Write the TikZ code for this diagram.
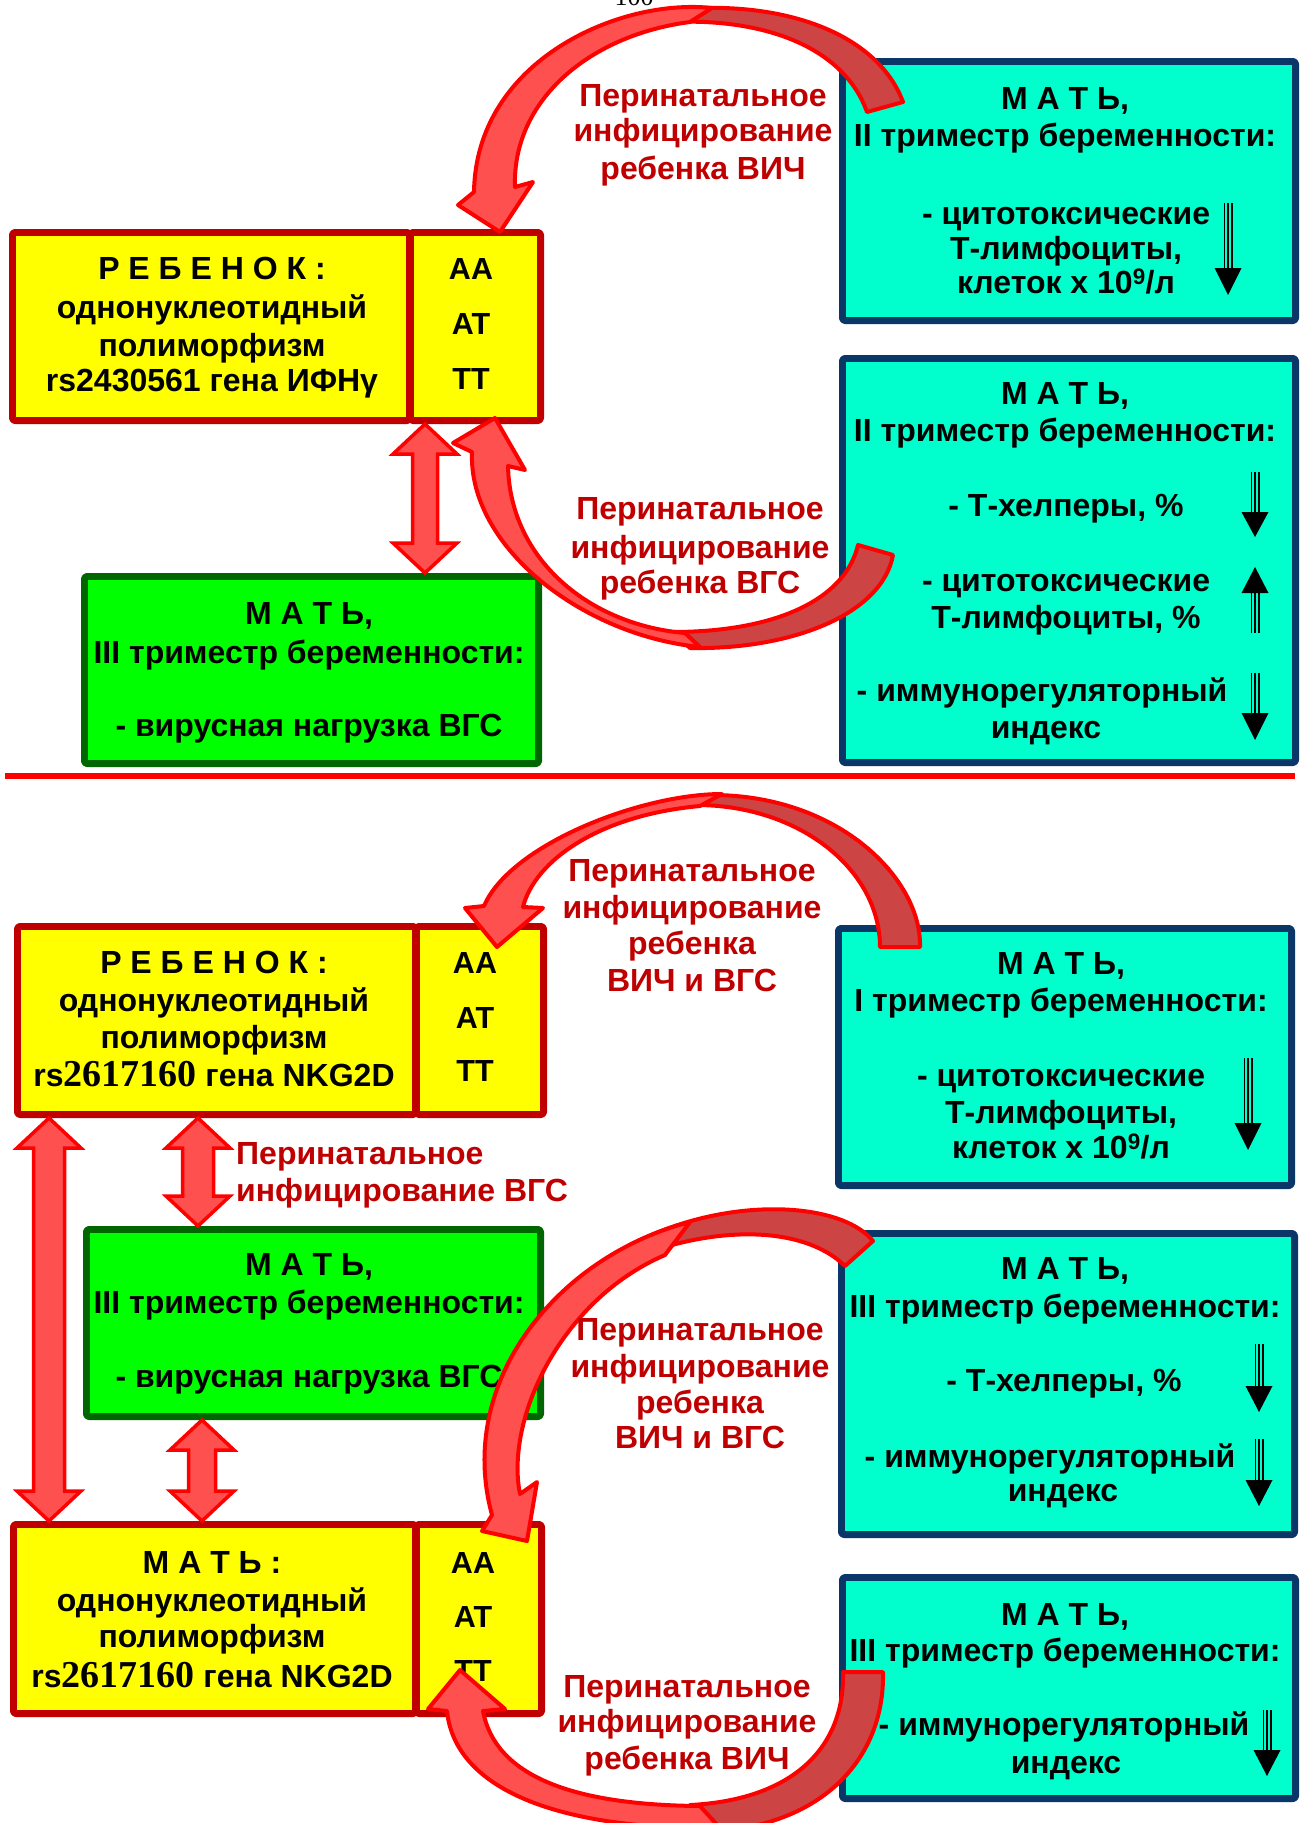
\documentclass[tikz,border=0pt]{standalone}
\usepackage{fontspec}
\setmainfont{Liberation Sans}
\newfontfamily\serifdig{Liberation Serif}
\usetikzlibrary{calc}
\definecolor{boxred}{HTML}{C00000}
\definecolor{yel}{HTML}{FFFF00}
\definecolor{navy}{HTML}{0B3768}
\definecolor{cyanf}{HTML}{00FFCC}
\definecolor{grn}{HTML}{00FF00}
\definecolor{dgrn}{HTML}{006600}
\definecolor{lblred}{HTML}{C00000}
\definecolor{arrl}{HTML}{FF5050}
\definecolor{arrd}{HTML}{CC4444}
\definecolor{rline}{HTML}{FF0000}
\tikzset{
 yelbox/.style={draw=boxred, line width=6pt, fill=yel, rounded corners=3pt},
 yelboxinner/.style={draw=boxred, line width=1.6pt},
 cyanbox/.style={draw=navy, line width=6pt, fill=cyanf, rounded corners=3pt},
 cyanboxinner/.style={draw=navy, line width=1.6pt},
 grnbox/.style={draw=dgrn, line width=6pt, fill=grn, rounded corners=3pt},
 grnboxinner/.style={draw=dgrn, line width=1.6pt},
 txt/.style={font=\bfseries\fontsize{32pt}{38pt}\selectfont, inner sep=0pt, text height=23pt, text depth=0pt},
 lbl/.style={txt, text=lblred},
 gen/.style={txt, font=\bfseries\fontsize{30.5pt}{36pt}\selectfont},
 darkband/.style={fill=arrd, draw=rline, line width=4pt, line join=round},
 lightband/.style={fill=arrl, draw=rline, line width=4pt, line join=round},
 blockarr/.style={fill=arrl, draw=rline, line width=3.5pt, line join=miter},
}
\newcommand\MkBox[6]{%
 \node[#1, minimum width=#5pt, minimum height=#6pt, anchor=north west] (#2) at (#3,#4) {};
 \draw[#1inner] ([xshift=6.5pt,yshift=-6.5pt]#2.north west) rectangle ([xshift=-6.5pt,yshift=6.5pt]#2.south east);}
\newcommand\IndArrow[4]{%
 \draw[line width=1.4pt] (#1-3.8,#2) -- (#1-3.8,#3) (#1,#2) -- (#1,#3) (#1+3.8,#2) -- (#1+3.8,#3);
 \fill (#1-13.5,#3) -- (#1+13.5,#3) -- (#1,#4) -- cycle;}
\newcommand\VDArrow[3]{%
 \draw[blockarr] (#1) -- ($(#1)+(32,30)$) -- ($(#1)+(#3,30)$) -- ($(#2)+(#3,-30)$) -- ($(#2)+(32,-30)$) -- (#2) -- ($(#2)+(-32,-30)$) -- ($(#2)+(-#3,-30)$) -- ($(#1)+(-#3,30)$) -- ($(#1)+(-32,30)$) -- cycle;}
\begin{document}
\begin{tikzpicture}[x=1pt,y=-1pt,line join=round]
\useasboundingbox (0,0) rectangle (1301,1823);
\fill[white] (0,0) rectangle (1301,1823);
\node[font=\serifdig\fontsize{26pt}{30pt}\selectfont, anchor=base, inner sep=0pt] (pnum) at (634,5) {100};

% ---------------- top half ----------------
\MkBox{yelbox}{kid1main}{9}{229}{398}{189}
\MkBox{yelbox}{kid1gen}{407}{229}{131}{189}
\MkBox{cyanbox}{cyanA}{839}{58}{454}{260}
\MkBox{cyanbox}{cyanB}{839}{355}{454}{405}
\MkBox{grnbox}{green1}{81}{573}{455}{188}

\node[txt] (k1a) at (212,268) {Р Е Б Е Н О К :};
\node[txt] (k1b) at (212,307) {однонуклеотидный};
\node[txt] (k1c) at (212,345) {полиморфизм};
\node[txt] (k1d) at (212,380) {rs2430561 гена ИФНγ};
\node[gen] (g1a) at (471,268) {AA};
\node[gen] (g1b) at (471,323) {AT};
\node[gen] (g1c) at (471,378) {TT};

\node[txt] (cAa) at (1065,98) {М А Т Ь,};
\node[txt] (cAb) at (1065,135) {II триместр беременности:};
\node[txt] (cAc) at (1066,213) {- цитотоксические};
\node[txt] (cAd) at (1066,248) {Т-лимфоциты,};
\node[txt] (cAe) at (1066,282) {клеток х 10\textsuperscript{9}/л};
\IndArrow{1228}{203}{268}{295}

\node[txt] (cBa) at (1065,393) {М А Т Ь,};
\node[txt] (cBb) at (1065,430) {II триместр беременности:};
\node[txt] (cBc) at (1066,505) {- Т-хелперы, \%};
\node[txt] (cBd) at (1066,580) {- цитотоксические};
\node[txt] (cBe) at (1066,617) {Т-лимфоциты, \%};
\node[txt] (cBf) at (1042,690) {- иммунорегуляторный};
\node[txt] (cBg) at (1046,727) {индекс};
\IndArrow{1255}{472}{512}{537}
\IndArrow{1255}{633}{593}{567}
\IndArrow{1255}{673}{713}{740}

\node[txt] (gr1a) at (309,613) {М А Т Ь,};
\node[txt] (gr1b) at (309,652) {III триместр беременности:};
\node[txt] (gr1c) at (309,725) {- вирусная нагрузка ВГС};

\coordinate (da1t) at ([xshift=18pt]kid1gen.south west);
\coordinate (da1b) at ([xshift=344pt]green1.north west);
\VDArrow{da1t}{da1b}{12.5}

% curved arrow: HIV (top)
\path[darkband] (903,102) .. controls (880,40) and (800,5) .. (700,8) -- (672,22) .. controls (770,18) and (845,50) .. (867,112) -- cycle;
\path[lightband] (712,8) .. controls (620,-2) and (476,60) .. (474,192) -- (458,205) -- (500,232) -- (533,182) -- (515,187) .. controls (512,100) and (590,35) .. (690,22) -- cycle;
\node[lbl] (l1a) at (703,95) {Перинатальное};
\node[lbl] (l1b) at (703,130) {инфицирование};
\node[lbl] (l1c) at (703,168) {ребенка ВИЧ};

% curved arrow: HCV (top)
\path[darkband] (893,555) .. controls (882,615) and (790,650) .. (690,648) -- (672,632) .. controls (775,632) and (845,600) .. (858,545) -- cycle;
\path[lightband] (700,647) .. controls (580,635) and (468,545) .. (472,452) -- (453,443) -- (495,418) -- (525,470) -- (508,466) .. controls (510,560) and (590,625) .. (685,633) -- cycle;
\node[lbl] (l2a) at (700,508) {Перинатальное};
\node[lbl] (l2b) at (700,547) {инфицирование};
\node[lbl] (l2c) at (700,582) {ребенка ВГС};

% separator
\draw[rline, line width=6pt] (5,776) -- (1295,776);

% ---------------- bottom half ----------------
\MkBox{yelbox}{kid2main}{14}{923}{399}{189}
\MkBox{yelbox}{kid2gen}{413}{923}{128}{189}
\MkBox{cyanbox}{cyanC}{835}{925}{454}{258}
\MkBox{grnbox}{green2}{83}{1226}{455}{188}
\MkBox{yelbox}{mommain}{10}{1521}{403}{190}
\MkBox{yelbox}{momgen}{413}{1521}{126}{190}
\MkBox{cyanbox}{cyanD}{838}{1230}{454}{302}
\MkBox{cyanbox}{cyanE}{839}{1574}{454}{222}

\node[txt] (k2a) at (214,962) {Р Е Б Е Н О К :};
\node[txt] (k2b) at (214,1000) {однонуклеотидный};
\node[txt] (k2c) at (214,1037) {полиморфизм};
\node[txt] (k2d) at (214,1075) {rs{\serifdig\fontsize{38pt}{40pt}\selectfont 2617160} гена NKG2D};
\node[gen] (g2a) at (475,962) {AA};
\node[gen] (g2b) at (475,1017) {AT};
\node[gen] (g2c) at (475,1070) {TT};

\node[txt] (cCa) at (1061,963) {М А Т Ь,};
\node[txt] (cCb) at (1061,1000) {I триместр беременности:};
\node[txt] (cCc) at (1061,1075) {- цитотоксические};
\node[txt] (cCd) at (1061,1112) {Т-лимфоциты,};
\node[txt] (cCe) at (1061,1147) {клеток х 10\textsuperscript{9}/л};
\IndArrow{1248}{1058}{1123}{1150}

\node[txt] (gr2a) at (309,1264) {М А Т Ь,};
\node[txt] (gr2b) at (309,1302) {III триместр беременности:};
\node[txt] (gr2c) at (309,1376) {- вирусная нагрузка ВГС};

\node[txt] (ma) at (212,1562) {М А Т Ь :};
\node[txt] (mb) at (212,1600) {однонуклеотидный};
\node[txt] (mc) at (212,1636) {полиморфизм};
\node[txt] (md) at (212,1676) {rs{\serifdig\fontsize{38pt}{40pt}\selectfont 2617160} гена NKG2D};
\node[gen] (g3a) at (473,1562) {AA};
\node[gen] (g3b) at (473,1616) {AT};
\node[gen] (g3c) at (473,1670) {TT};

\node[txt] (cDa) at (1065,1268) {М А Т Ь,};
\node[txt] (cDb) at (1065,1306) {III триместр беременности:};
\node[txt] (cDc) at (1064,1380) {- Т-хелперы, \%};
\node[txt] (cDd) at (1050,1456) {- иммунорегуляторный};
\node[txt] (cDe) at (1063,1490) {индекс};
\IndArrow{1259}{1344}{1386}{1412}
\IndArrow{1259}{1439}{1480}{1506}

\node[txt] (cEa) at (1065,1614) {М А Т Ь,};
\node[txt] (cEb) at (1065,1650) {III триместр беременности:};
\node[txt] (cEc) at (1064,1724) {- иммунорегуляторный};
\node[txt] (cEd) at (1066,1762) {индекс};
\IndArrow{1267}{1710}{1750}{1776}

% straight double arrows
\coordinate (daLt) at ([xshift=35pt]kid2main.south west);
\coordinate (daLb) at ([xshift=39pt]mommain.north west);
\VDArrow{daLt}{daLb}{15.5}
\coordinate (daM1t) at ([xshift=184pt]kid2main.south west);
\coordinate (daM1b) at ([xshift=115pt]green2.north west);
\VDArrow{daM1t}{daM1b}{15.5}
\coordinate (daM2t) at ([xshift=119pt]green2.south west);
\coordinate (daM2b) at ([xshift=192pt]mommain.north west);
\VDArrow{daM2t}{daM2b}{13.5}
\node[lbl, anchor=west] (lm1) at (236,1153) {Перинатальное};
\node[lbl, anchor=west] (lm2) at (236,1190) {инфицирование ВГС};

% curved arrow: HIV and HCV (from I trimester)
\path[darkband] (920,947) .. controls (922,880) and (840,795) .. (712,795) -- (696,805) .. controls (800,805) and (880,870) .. (880,947) -- cycle;
\path[lightband] (722,794) .. controls (640,794) and (510,845) .. (484,906) -- (465,908) -- (497,947) -- (543,908) -- (523,907) .. controls (535,860) and (600,815) .. (700,806) -- cycle;
\node[lbl] (l3a) at (692,870) {Перинатальное};
\node[lbl] (l3b) at (692,907) {инфицирование};
\node[lbl] (l3c) at (692,943) {ребенка};
\node[lbl] (l3d) at (692,980) {ВИЧ и ВГС};

% curved arrow: HIV and HCV (from III trimester)
\path[darkband] (873,1241) .. controls (840,1200) and (720,1195) .. (625,1248) -- (610,1268) .. controls (700,1225) and (800,1222) .. (845,1266) -- cycle;
\path[lightband] (690,1222) .. controls (560,1255) and (455,1380) .. (492,1515) -- (482,1531) -- (527,1541) -- (537,1482) -- (520,1494) .. controls (505,1420) and (560,1300) .. (665,1255) -- cycle;
\node[lbl] (l4a) at (700,1329) {Перинатальное};
\node[lbl] (l4b) at (700,1366) {инфицирование};
\node[lbl] (l4c) at (700,1402) {ребенка};
\node[lbl] (l4d) at (700,1437) {ВИЧ и ВГС};

% curved arrow: HIV (bottom)
\path[darkband] (883,1672) .. controls (885,1760) and (820,1830) .. (700,1832) -- (690,1805) .. controls (790,1800) and (845,1750) .. (843,1672) -- cycle;
\path[lightband] (720,1828) .. controls (560,1830) and (455,1790) .. (447,1711) -- (428,1709) -- (460,1670) -- (505,1709) -- (483,1711) .. controls (495,1775) and (570,1805) .. (700,1806) -- cycle;
\node[lbl] (l5a) at (687,1686) {Перинатальное};
\node[lbl] (l5b) at (687,1721) {инфицирование};
\node[lbl] (l5c) at (687,1758) {ребенка ВИЧ};
\end{tikzpicture}
\end{document}
